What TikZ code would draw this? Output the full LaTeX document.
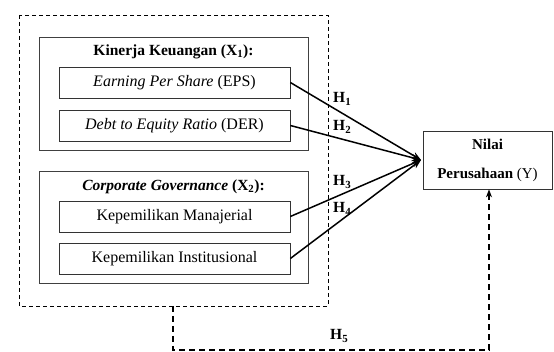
\documentclass[tikz,border=0pt]{standalone}
\usepackage{fontspec}
\setmainfont{Liberation Serif}
\usetikzlibrary{arrows.meta}
\begin{document}
\begin{tikzpicture}[x=1pt,y=-1pt,
  grpbox/.style={draw=black!75,line width=0.7pt},
  itembox/.style={draw=black!80,line width=0.7pt,minimum width=231pt,minimum height=31pt,inner sep=0pt,font=\fontsize{16}{19}\selectfont},
  ttl/.style={font=\bfseries\fontsize{15.5}{18}\selectfont,inner sep=0pt},
  hyp/.style={-{Stealth[length=9pt,width=7pt]},line width=1.5pt},
  hlab/.style={font=\bfseries\fontsize{15.5}{18}\selectfont,inner sep=0pt},
  outerdash/.style={draw,dash pattern=on 4pt off 3pt,line width=0.8pt}]
\useasboundingbox (0,0) rectangle (554,352);
\draw[outerdash] (19,15) rectangle (328,306);
\draw[grpbox] (39,37) rectangle (308,150);
\draw[grpbox] (39,171) rectangle (308,283);
\node[ttl] (t1) at (173.5,52) {Kinerja Keuangan (X\textsubscript{1}):};
\node[ttl] (t2) at (173.5,187) {\textit{Corporate Governance} (X\textsubscript{2}):};
\node[itembox] (eps) at (174.5,82.5) {\textit{Earning Per Share} (EPS)};
\node[itembox] (der) at (174.5,125.5) {\textit{Debt to Equity Ratio} (DER)};
\node[itembox] (km) at (174.5,216.5) {Kepemilikan Manajerial};
\node[itembox] (ki) at (174.5,258.5) {Kepemilikan Institusional};
\node[draw=black!80,line width=0.7pt,minimum width=129pt,minimum height=58pt,inner sep=0pt,align=center,font=\fontsize{15}{29}\selectfont] (y) at (487.5,160) {\textbf{Nilai}\\\textbf{Perusahaan} (Y)};
\coordinate (tip) at (421,160);
\draw[hyp] (eps.east) -- (tip);
\draw[hyp] (der.east) -- (tip);
\draw[hyp] (km.east) -- (tip);
\draw[hyp] (ki.east) -- (tip);
\node[hlab,anchor=west] (h1) at (333,99) {H\textsubscript{1}};
\node[hlab,anchor=west] (h2) at (333,127) {H\textsubscript{2}};
\node[hlab,anchor=west] (h3) at (333,182) {H\textsubscript{3}};
\node[hlab,anchor=west] (h4) at (333,209) {H\textsubscript{4}};
\node[hlab,anchor=west] (h5) at (330,336) {H\textsubscript{5}};
\coordinate (s5) at (173,306);
\coordinate (c1) at (173,350);
\coordinate (c2) at (489,350);
\draw[line width=1.5pt,dash pattern=on 6pt off 4pt,-{Stealth[length=8pt,width=6pt]}] (s5) -- (c1) -- (c2) -- (y.south -| c2);
\end{tikzpicture}
\end{document}
